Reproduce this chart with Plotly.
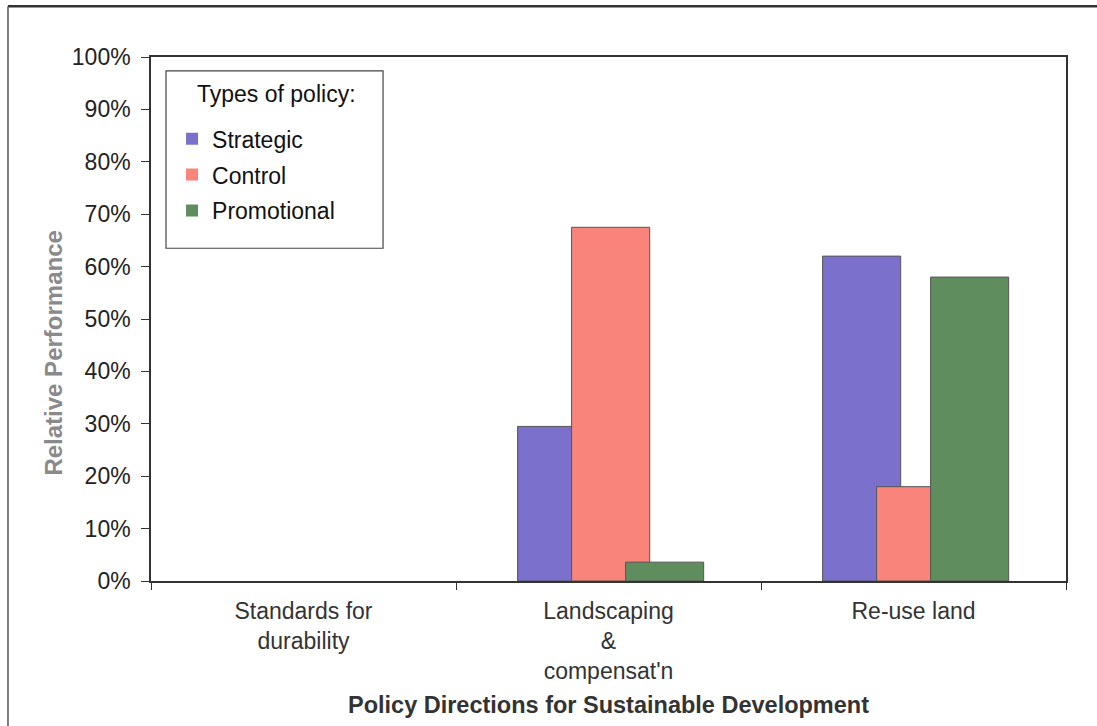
import plotly.graph_objects as go

# Policy directions (x categories) and relative performance per policy type
categories = ["Standards for<br>durability", "Landscaping<br>&<br>compensat'n", "Re-use land"]
strategic = [0.0, 0.295, 0.62]
control = [0.0, 0.675, 0.18]
promotional = [0.0, 0.036, 0.58]

series = [
    ("Strategic", strategic, "#7b70cc", -0.298),
    ("Control", control, "#f9847c", -0.121),
    ("Promotional", promotional, "#5f8d5e", 0.056),
]

FONT = "Liberation Sans, Arial, sans-serif"
BAR_W = 0.256

fig = go.Figure()
for name, vals, color, off in series:
    fig.add_trace(go.Bar(
        name=name, x=categories, y=vals,
        width=BAR_W, offset=off,
        marker=dict(color=color,
                    line=dict(color="#555555",
                              width=[1 if v > 0 else 0 for v in vals])),
        legendgroup=name,
    ))

fig.update_layout(
    width=1097, height=726,
    margin=dict(l=151, r=31, t=57, b=142),
    paper_bgcolor="white", plot_bgcolor="white",
    barmode="overlay",
    font=dict(family=FONT, size=23, color="#222222"),
    showlegend=True,
    legend=dict(
        x=0.023, xanchor="left", y=0.885, yanchor="top",
        bgcolor="rgba(0,0,0,0)", borderwidth=0,
        font=dict(size=23, color="#111111"),
        tracegroupgap=3,
    ),
    xaxis=dict(
        showline=True, mirror=True, linecolor="#333333", linewidth=1.5,
        ticks="outside", ticklen=7, tickcolor="#333333", tickson="boundaries",
        showgrid=False, ticklabelstandoff=9,
        tickfont=dict(size=23, color="#333333"),
        title=dict(text="<b>Policy Directions for Sustainable Development</b>",
                   font=dict(size=23.5, color="#333333"), standoff=13),
    ),
    yaxis=dict(
        range=[0, 1], dtick=0.1, tickformat=".0%",
        showline=True, mirror=True, linecolor="#333333", linewidth=1.5,
        ticks="outside", ticklen=8, tickcolor="#333333",
        showgrid=False, zeroline=False, ticklabelstandoff=6,
        tickfont=dict(size=23, color="#222222"),
    ),
)

# Y-axis title
fig.add_annotation(text="<b>Relative Performance</b>", textangle=-90,
                   xref="paper", yref="paper", x=-0.106, y=0.434,
                   xanchor="center", yanchor="middle",
                   showarrow=False, font=dict(size=24, color="#8a8a8a"))

# Legend heading and frame
fig.add_annotation(text="Types of policy:", xref="paper", yref="paper",
                   x=0.048, y=0.929, xanchor="left", yanchor="middle",
                   showarrow=False, font=dict(size=23, color="#111111"))
fig.add_shape(type="rect", xref="paper", yref="paper",
              x0=0.0164, x1=0.2536, y0=0.635, y1=0.9735,
              line=dict(color="#444444", width=1.2), fillcolor="rgba(0,0,0,0)")

# Outer chart frame (top and left edges)
fig.add_shape(type="line", xref="paper", yref="paper",
              x0=-0.1563, x1=1.04, y0=1.097, y1=1.097,
              line=dict(color="#333333", width=2.5))
fig.add_shape(type="line", xref="paper", yref="paper",
              x0=-0.1563, x1=-0.1563, y0=1.097, y1=-0.28,
              line=dict(color="#555555", width=1.5))

fig.write_html("out.html")
